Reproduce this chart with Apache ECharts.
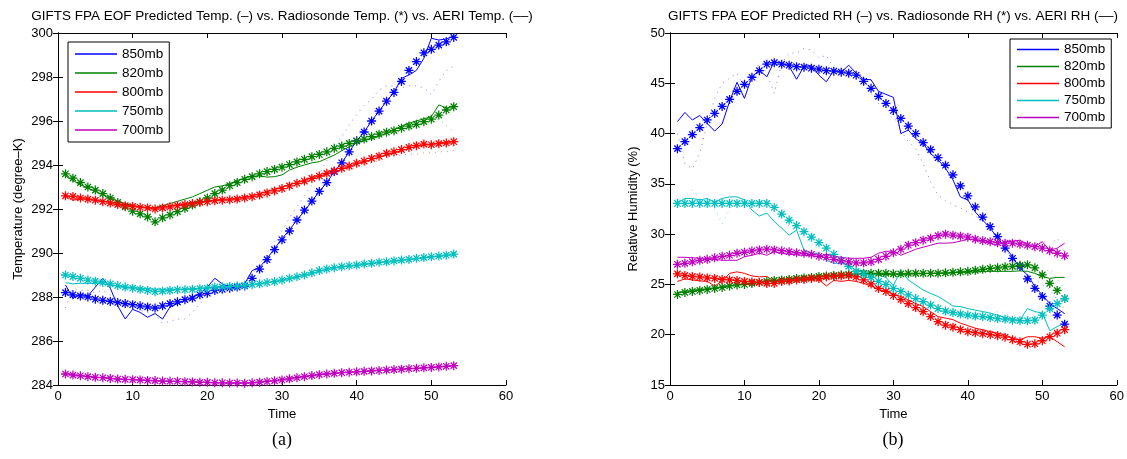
<!DOCTYPE html>
<html>
<head>
<meta charset="utf-8">
<script src="https://cdn.jsdelivr.net/npm/echarts@6/dist/echarts.min.js"></script>
<style>
  html, body { margin: 0; padding: 0; background: #fff; }
  #chart { width: 1127px; height: 459px; }
</style>
</head>
<body>
<div id="chart"></div>
<script>
// time steps 1..53
const times = [1,2,3,4,5,6,7,8,9,10,11,12,13,14,15,16,17,18,19,20,21,22,23,24,25,26,27,28,29,30,31,32,33,34,35,36,37,38,39,40,41,42,43,44,45,46,47,48,49,50,51,52,53]
const levels = ['850mb', '820mb', '800mb', '750mb', '700mb']

// (a) temperature, degree K
const temp850Pred = [288.55,287.94,288.12,288.05,288.45,288.85,288.4,287.6,287.0,287.44,287.3,287.08,287.25,287.0,287.55,287.7,287.85,287.97,288.15,288.45,288.85,288.6,288.45,288.4,288.6,289.2,289.35,289.75,290.2,290.65,291.05,291.5,291.9,292.35,292.8,293.2,293.7,294.1,294.6,295.1,295.5,296.0,296.45,296.9,297.3,297.94,298.09,298.3,298.85,299.76,299.68,299.73,299.86]
const temp850Sonde = [288.2,288.1,288.05,288.0,287.9,287.85,287.8,287.75,287.7,287.65,287.6,287.55,287.5,287.6,287.7,287.78,287.88,287.95,288.1,288.17,288.3,288.35,288.4,288.45,288.5,288.85,289.27,289.7,290.15,290.6,291.0,291.5,291.95,292.36,292.8,293.2,293.7,294.1,294.6,295.1,295.5,296.0,296.45,296.9,297.3,297.8,298.3,298.7,299.1,299.26,299.45,299.6,299.8]
const temp850Aeri = [287.5,288.4,288.3,288.3,288.2,288.3,288.1,287.9,287.7,287.6,287.4,287.3,287.2,286.8,286.9,287.0,287.0,287.3,287.7,288.0,288.3,288.4,288.3,288.4,288.6,289.0,289.5,290.0,290.5,291.0,291.6,292.1,292.6,293.1,293.6,294.2,294.8,295.3,295.8,296.3,296.7,297.0,297.4,297.6,297.6,297.5,297.6,297.6,297.5,297.2,297.8,298.3,298.5]

const temp820Pred = [293.5,293.3,293.1,292.95,292.8,292.65,292.5,292.35,292.25,292.15,292.1,292.05,292.05,292.15,292.25,292.35,292.45,292.55,292.7,292.85,293.0,293.05,293.15,293.3,293.4,293.5,293.5,293.45,293.47,293.55,293.77,293.9,294.0,294.1,294.15,294.3,294.45,294.65,294.83,295.0,295.1,295.2,295.3,295.45,295.6,295.77,295.9,296.0,296.1,296.2,296.73,296.6,296.6]
const temp820Sonde = [293.6,293.4,293.2,293.0,292.86,292.7,292.5,292.3,292.1,291.9,291.78,291.64,291.42,291.6,291.73,291.88,292.03,292.18,292.33,292.5,292.7,292.86,293.06,293.2,293.35,293.47,293.6,293.7,293.8,293.9,294.02,294.14,294.26,294.38,294.48,294.6,294.76,294.86,294.98,295.09,295.18,295.29,295.4,295.49,295.56,295.67,295.77,295.85,295.97,296.08,296.27,296.5,296.65]
const temp820Aeri = [293.7,293.5,293.3,293.1,292.9,292.7,292.5,292.3,292.1,291.95,291.8,291.65,291.5,291.6,291.75,291.9,292.05,292.2,292.35,292.5,292.65,292.8,293.0,293.15,293.3,293.45,293.55,293.65,293.75,293.85,293.95,294.1,294.2,294.35,294.45,294.55,294.7,294.8,294.9,295.0,295.1,295.2,295.3,295.4,295.5,295.6,295.7,295.8,295.9,296.0,296.1,295.8,295.5]

const temp800Pred = [292.65,292.4,292.45,292.45,292.4,292.35,292.3,292.25,292.2,292.15,292.1,292.05,292.05,292.1,292.15,292.2,292.25,292.3,292.3,292.35,292.4,292.45,292.45,292.5,292.55,292.6,292.7,292.8,292.9,293.0,293.1,293.2,293.3,293.4,293.5,293.6,293.7,293.8,293.95,294.05,294.15,294.25,294.35,294.45,294.55,294.65,294.75,294.85,294.9,294.95,295.0,295.05,295.05]
const temp800Sonde = [292.6,292.57,292.5,292.45,292.4,292.33,292.27,292.2,292.15,292.12,292.08,292.05,292.0,292.05,292.1,292.15,292.2,292.25,292.3,292.33,292.38,292.4,292.42,292.45,292.5,292.56,292.64,292.73,292.82,292.93,293.05,293.17,293.27,293.39,293.5,293.62,293.73,293.85,293.95,294.08,294.18,294.3,294.4,294.53,294.6,294.7,294.8,294.88,294.95,294.92,294.97,295.0,295.06]
const temp800Aeri = [292.7,292.6,292.55,292.5,292.45,292.4,292.3,292.25,292.2,292.15,292.1,292.05,292.0,292.0,292.05,292.1,292.15,292.2,292.25,292.3,292.35,292.35,292.4,292.4,292.45,292.5,292.6,292.7,292.8,292.9,293.0,293.1,293.2,293.3,293.4,293.5,293.6,293.7,293.8,293.9,294.0,294.1,294.2,294.3,294.4,294.45,294.5,294.5,294.55,294.55,294.6,294.6,294.65]

const temp750Pred = [288.65,288.6,288.62,288.62,288.62,288.6,288.55,288.5,288.45,288.42,288.4,288.38,288.36,288.35,288.35,288.36,288.37,288.38,288.4,288.42,288.45,288.47,288.49,288.51,288.54,288.57,288.6,288.65,288.7,288.77,288.84,288.91,288.99,289.08,289.17,289.25,289.31,289.36,289.4,289.44,289.48,289.52,289.56,289.59,289.62,289.66,289.7,289.74,289.78,289.82,289.85,289.89,289.93]
const temp750Sonde = [289.0,288.93,288.85,288.77,288.72,288.66,288.6,288.52,288.45,288.4,288.35,288.3,288.24,288.27,288.3,288.33,288.33,288.35,288.38,288.4,288.45,288.46,288.48,288.5,288.53,288.56,288.6,288.66,288.7,288.77,288.85,288.92,289.0,289.1,289.2,289.27,289.33,289.38,289.42,289.45,289.5,289.53,289.58,289.6,289.64,289.68,289.71,289.76,289.79,289.83,289.86,289.9,289.95]
const temp750Aeri = [289.1,289.0,288.9,288.8,288.75,288.7,288.6,288.55,288.5,288.45,288.4,288.35,288.3,288.3,288.3,288.35,288.35,288.4,288.4,288.45,288.5,288.5,288.5,288.55,288.55,288.6,288.65,288.7,288.75,288.8,288.85,288.95,289.0,289.1,289.2,289.25,289.3,289.35,289.4,289.45,289.5,289.5,289.55,289.6,289.6,289.65,289.7,289.7,289.75,289.8,289.8,289.85,289.85]

const temp700Pred = [284.52,284.47,284.43,284.39,284.36,284.33,284.3,284.28,284.26,284.24,284.22,284.2,284.19,284.18,284.17,284.16,284.15,284.14,284.13,284.12,284.11,284.1,284.1,284.09,284.09,284.1,284.13,284.16,284.2,284.24,284.29,284.34,284.39,284.44,284.48,284.51,284.54,284.56,284.58,284.6,284.62,284.64,284.66,284.68,284.7,284.72,284.74,284.76,284.78,284.8,284.82,284.85,284.88]
const temp700Sonde = [284.5,284.45,284.42,284.38,284.35,284.33,284.3,284.27,284.26,284.24,284.23,284.21,284.2,284.18,284.17,284.17,284.15,284.14,284.12,284.12,284.1,284.1,284.09,284.09,284.08,284.1,284.13,284.16,284.19,284.23,284.28,284.33,284.38,284.43,284.47,284.5,284.53,284.56,284.58,284.6,284.62,284.64,284.66,284.68,284.7,284.72,284.74,284.76,284.78,284.8,284.82,284.85,284.88]
const temp700Aeri = [284.55,284.5,284.45,284.4,284.37,284.34,284.31,284.29,284.27,284.25,284.23,284.22,284.2,284.19,284.18,284.17,284.16,284.15,284.14,284.13,284.12,284.11,284.1,284.1,284.1,284.12,284.14,284.17,284.2,284.25,284.3,284.35,284.4,284.45,284.49,284.52,284.55,284.57,284.59,284.61,284.63,284.65,284.67,284.69,284.71,284.73,284.75,284.77,284.79,284.81,284.83,284.86,284.9]

// (b) relative humidity, %
const rh850Pred = [41.2,42.1,41.35,41.8,41.0,40.25,40.95,43.2,45.1,43.5,45.65,46.3,45.65,47.15,47.0,46.7,45.4,46.7,46.75,45.8,45.15,46.3,46.1,46.8,46.0,45.4,45.35,44.2,43.9,43.6,40.0,40.35,39.5,39.0,38.0,37.4,36.55,35.4,33.7,33.4,32.2,31.4,30.6,29.6,28.75,27.75,26.6,25.95,24.8,23.95,23.1,22.6,22.1]
const rh850Sonde = [38.5,39.2,39.9,40.6,41.35,42.0,42.7,43.4,44.2,44.9,45.6,46.25,46.9,47.05,46.9,46.8,46.65,46.6,46.5,46.4,46.25,46.2,46.1,46.0,45.8,45.2,44.5,43.7,43.0,42.3,41.5,40.75,40.0,39.1,38.4,37.6,36.85,35.9,34.8,33.8,32.7,31.7,30.75,29.75,28.6,27.6,26.8,25.55,24.6,23.8,22.85,21.95,21.05]
const rh850Aeri = [40.0,37.0,36.5,38.0,41.0,43.5,45.0,45.5,46.0,44.5,45.5,47.0,46.0,44.0,47.0,48.0,48.0,48.5,48.3,47.5,47.8,46.5,46.2,46.0,45.8,45.0,44.0,43.0,42.5,41.8,40.3,39.2,38.5,37.0,35.2,33.9,33.3,32.9,32.6,32.2,31.8,31.3,30.5,29.5,28.5,27.5,26.5,26.0,25.5,25.0,24.5,23.5,22.5]

const rh820Pred = [24.2,24.3,24.4,24.5,24.55,24.65,24.75,24.85,24.95,25.0,25.1,25.2,25.3,25.4,25.45,25.5,25.55,25.6,25.65,25.75,25.8,25.85,25.9,25.95,26.0,26.05,26.0,26.0,26.0,25.95,26.0,26.0,26.05,26.05,26.1,26.1,26.1,26.15,26.2,26.2,26.25,26.3,26.3,26.3,26.3,26.3,26.35,26.3,26.1,25.8,25.6,25.7,25.7]
const rh820Sonde = [24.0,24.2,24.3,24.4,24.5,24.6,24.7,24.85,24.95,25.0,25.1,25.2,25.3,25.4,25.45,25.5,25.6,25.65,25.7,25.8,25.85,25.9,25.95,26.0,26.05,26.1,26.1,26.1,26.1,26.05,26.05,26.1,26.1,26.1,26.1,26.1,26.15,26.2,26.25,26.3,26.4,26.5,26.6,26.65,26.75,26.8,26.9,26.95,26.65,25.95,25.1,24.4,23.6]
const rh820Aeri = [24.1,24.2,24.35,24.45,24.55,24.65,24.75,24.85,24.9,25.0,25.1,25.2,25.3,25.35,25.45,25.5,25.55,25.6,25.7,25.75,25.8,25.9,25.95,26.0,26.0,26.05,26.1,26.1,26.05,26.05,26.1,26.1,26.1,26.15,26.15,26.2,26.2,26.25,26.3,26.35,26.4,26.5,26.55,26.6,26.7,26.75,26.85,26.9,26.5,25.8,26.6,25.5,24.6]

const rh800Pred = [25.3,25.55,25.45,25.35,25.3,24.85,25.3,26.1,26.25,26.1,25.85,25.75,25.8,25.3,25.3,25.35,25.4,25.45,25.45,25.45,24.85,25.4,25.3,25.4,25.3,25.1,24.85,24.5,24.3,24.05,23.8,23.45,23.1,22.8,22.3,21.8,21.65,21.5,21.15,20.9,20.65,20.5,20.3,20.15,20.0,19.65,19.5,19.8,19.8,19.65,19.8,19.3,18.8]
const rh800Sonde = [26.05,25.9,25.8,25.75,25.65,25.6,25.5,25.45,25.4,25.3,25.25,25.2,25.1,25.1,25.3,25.35,25.45,25.5,25.6,25.6,25.75,25.8,25.85,25.9,25.75,25.45,25.05,24.6,24.3,23.9,23.5,23.1,22.7,22.3,21.8,21.3,20.95,20.75,20.5,20.3,20.2,20.1,20.0,19.9,19.75,19.5,19.3,19.05,19.1,19.4,19.8,20.15,20.5]
const rh800Aeri = [26.2,26.0,25.9,25.8,25.7,25.6,25.55,25.5,25.4,25.35,25.3,25.2,25.15,25.2,25.3,25.4,25.5,25.55,25.6,25.7,25.75,25.8,25.9,25.9,25.8,25.5,25.1,24.7,24.3,23.9,23.5,23.1,22.7,22.3,21.9,21.4,21.0,20.8,20.6,20.4,20.3,20.2,20.1,20.0,19.8,19.6,19.4,19.2,19.2,19.5,19.9,20.3,20.6]

const rh750Pred = [33.1,33.55,33.55,33.4,33.55,33.2,33.55,33.7,33.7,33.4,32.4,31.8,32.1,31.25,30.6,29.9,30.4,28.4,28.1,28.1,27.4,27.1,27.1,26.9,26.4,26.4,26.1,25.95,25.7,24.9,26.4,25.45,24.95,24.45,24.1,23.8,23.35,22.85,22.8,22.6,22.45,22.3,22.15,21.95,21.7,21.5,21.45,22.6,22.3,22.15,20.4,20.8,21.15]
const rh750Sonde = [33.05,33.05,33.05,33.05,33.05,33.05,33.05,33.05,33.05,33.05,33.05,33.05,33.05,32.65,32.0,31.4,30.85,30.25,29.7,29.15,28.6,28.0,27.4,26.8,26.3,26.0,25.7,25.3,25.0,24.6,24.3,23.95,23.6,23.3,22.95,22.6,22.35,22.2,22.05,21.95,21.85,21.8,21.7,21.6,21.55,21.45,21.4,21.4,21.45,21.95,22.6,23.1,23.6]
const rh750Aeri = [33.2,33.8,34.4,33.5,33.0,32.5,31.0,32.5,33.3,33.5,33.0,33.2,33.0,32.5,31.5,30.8,30.2,29.6,29.0,28.5,28.0,27.6,27.2,26.8,26.3,25.8,25.4,25.0,24.6,24.3,24.0,23.7,23.4,23.1,22.8,22.5,22.3,22.2,22.0,21.9,21.8,21.7,21.8,22.4,22.1,21.6,21.3,21.2,21.3,21.6,22.2,22.8,23.3]

const rh700Pred = [27.7,27.7,27.65,27.6,27.6,27.5,27.4,27.4,27.4,27.75,27.9,28.1,27.9,28.25,28.1,28.0,27.95,27.9,27.85,27.8,28.0,27.8,27.7,27.6,27.6,27.6,27.7,28.1,28.3,28.3,27.9,28.2,28.5,28.7,28.9,29.1,29.1,29.15,29.3,29.5,29.4,29.25,29.1,28.9,29.25,29.3,29.4,28.9,28.75,29.25,28.4,28.6,29.1]
const rh700Sonde = [27.0,27.1,27.25,27.4,27.5,27.65,27.8,27.9,28.1,28.2,28.33,28.43,28.5,28.43,28.35,28.26,28.15,28.1,28.0,27.8,27.7,27.5,27.35,27.25,27.15,27.15,27.25,27.5,27.8,28.15,28.5,28.9,29.15,29.4,29.6,29.85,30.0,29.9,29.8,29.7,29.5,29.35,29.25,29.15,29.1,29.1,29.0,28.9,28.75,28.6,28.36,28.1,27.85]
const rh700Aeri = [27.1,27.2,27.3,27.45,27.55,27.7,27.8,27.95,28.1,28.2,28.3,28.4,28.5,28.45,28.4,28.3,28.2,28.1,28.0,27.85,27.7,27.55,27.4,27.3,27.2,27.2,27.3,27.55,27.85,28.2,28.55,28.9,29.2,29.45,29.65,29.9,30.05,29.95,29.85,29.7,29.55,29.4,29.3,29.2,29.1,29.1,29.0,28.9,28.8,29.4,28.9,29.6,28.2]

const colors = ['#0000ff', '#008000', '#ff0000', '#00bfbf', '#bf00bf']

const tempPred = [temp850Pred, temp820Pred, temp800Pred, temp750Pred, temp700Pred]
const tempSonde = [temp850Sonde, temp820Sonde, temp800Sonde, temp750Sonde, temp700Sonde]
const tempAeri = [temp850Aeri, temp820Aeri, temp800Aeri, temp750Aeri, temp700Aeri]
const rhPred = [rh850Pred, rh820Pred, rh800Pred, rh750Pred, rh700Pred]
const rhSonde = [rh850Sonde, rh820Sonde, rh800Sonde, rh750Sonde, rh700Sonde]
const rhAeri = [rh850Aeri, rh820Aeri, rh800Aeri, rh750Aeri, rh700Aeri]

// matlab style '*' marker
const asterisk = 'path://M43 0H57V100H43Z M0 43H100V57H0Z M10 20L20 10L90 80L80 90Z M80 10L90 20L20 90L10 80Z'

const font = 'Liberation Sans, Arial, Helvetica, sans-serif'

const pairs = (values) => values.map((v, i) => [times[i], v])

const buildSeries = (gridIndex, pred, sonde, aeri) => {
  const list = []
  levels.forEach((name, k) => {
    list.push({
      name: name,
      type: 'line',
      xAxisIndex: gridIndex * 2,
      yAxisIndex: gridIndex * 2,
      symbol: 'none',
      lineStyle: { color: colors[k], width: 1 },
      itemStyle: { color: colors[k] },
      data: pairs(pred[k]),
      z: 3
    })
    list.push({
      name: name + ' radiosonde',
      type: 'line',
      xAxisIndex: gridIndex * 2,
      yAxisIndex: gridIndex * 2,
      symbol: asterisk,
      symbolSize: 9,
      showSymbol: true,
      lineStyle: { opacity: 0 },
      itemStyle: { color: colors[k] },
      data: pairs(sonde[k]),
      z: 4
    })
    list.push({
      name: name + ' AERI',
      type: 'line',
      xAxisIndex: gridIndex * 2,
      yAxisIndex: gridIndex * 2,
      symbol: 'none',
      lineStyle: { color: colors[k], width: 1, type: [1, 5], opacity: 0.5 },
      itemStyle: { color: colors[k] },
      data: pairs(aeri[k]),
      z: 2
    })
  })
  return list
}

const axisLabel = { color: '#000', fontSize: 13, fontFamily: font }
const axisLine = { lineStyle: { color: '#000', width: 1 } }
const nameStyle = { color: '#000', fontSize: 13, fontFamily: font }

const xAxes = (gridIndex) => ([
  {
    gridIndex: gridIndex, type: 'value', position: 'bottom', min: 0, max: 60, interval: 10,
    axisLine: axisLine, axisTick: { inside: true, length: 5, lineStyle: { color: '#000' } },
    axisLabel: Object.assign({ margin: 5 }, axisLabel), splitLine: { show: false },
    name: 'Time', nameLocation: 'middle', nameGap: 21, nameTextStyle: nameStyle
  },
  {
    gridIndex: gridIndex, type: 'value', position: 'top', min: 0, max: 60, interval: 10,
    axisLine: axisLine, axisTick: { inside: true, length: 5, lineStyle: { color: '#000' } },
    axisLabel: { show: false }, splitLine: { show: false }
  }
])

const yAxes = (gridIndex, min, max, interval, name, nameGap) => ([
  {
    gridIndex: gridIndex, type: 'value', position: 'left', min: min, max: max, interval: interval,
    axisLine: axisLine, axisTick: { inside: true, length: 5, lineStyle: { color: '#000' } },
    axisLabel: Object.assign({ margin: 5 }, axisLabel), splitLine: { show: false },
    name: name, nameLocation: 'middle', nameGap: nameGap, nameRotate: 90, nameTextStyle: nameStyle
  },
  {
    gridIndex: gridIndex, type: 'value', position: 'right', min: min, max: max, interval: interval,
    axisLine: axisLine, axisTick: { inside: true, length: 5, lineStyle: { color: '#000' } },
    axisLabel: { show: false }, splitLine: { show: false }
  }
])

const legendBase = {
  orient: 'vertical',
  data: levels,
  icon: 'rect',
  itemWidth: 42,
  itemHeight: 1.5,
  backgroundColor: '#fff',
  borderColor: '#000',
  borderWidth: 1,
  borderRadius: 0,
  selectedMode: false,
  textStyle: { color: '#000', fontSize: 13.5, fontFamily: font, lineHeight: 13 }
}

const chart = echarts.init(document.getElementById('chart'))

chart.setOption({
  animation: false,
  backgroundColor: '#fff',
  grid: [
    { left: 58, top: 33, width: 448, height: 352 },
    { left: 670, top: 33, width: 447, height: 352 }
  ],
  xAxis: [...xAxes(0), ...xAxes(1)],
  yAxis: [
    ...yAxes(0, 284, 300, 2, 'Temperature (degree\u2013K)', 33),
    ...yAxes(1, 15, 50, 5, 'Relative Humidity (%)', 30)
  ],
  legend: [
    Object.assign({ left: 68, top: 42, itemGap: 5, padding: [5, 6, 5, 7] }, legendBase),
    Object.assign({ left: 1010, top: 39, itemGap: 3, padding: [3.5, 6, 3.5, 7] }, legendBase)
  ],
  graphic: [
    {
      type: 'text', x: 282, y: 16,
      style: {
        text: 'GIFTS FPA EOF Predicted Temp. (\u2013) vs. Radiosonde Temp. (*) vs. AERI Temp. (\u2013\u2013)',
        fill: '#000', font: '13.5px ' + font, textAlign: 'center', textVerticalAlign: 'middle'
      }
    },
    {
      type: 'text', x: 893, y: 16,
      style: {
        text: 'GIFTS FPA EOF Predicted RH (\u2013) vs. Radiosonde RH (*) vs. AERI RH (\u2013\u2013)',
        fill: '#000', font: '13.5px ' + font, textAlign: 'center', textVerticalAlign: 'middle'
      }
    },
    {
      type: 'text', x: 282, y: 440,
      style: { text: '(a)', fill: '#000', font: '18px Liberation Serif, DejaVu Serif, serif', textAlign: 'center', textVerticalAlign: 'middle' }
    },
    {
      type: 'text', x: 893, y: 440,
      style: { text: '(b)', fill: '#000', font: '18px Liberation Serif, DejaVu Serif, serif', textAlign: 'center', textVerticalAlign: 'middle' }
    }
  ],
  series: [
    ...buildSeries(0, tempPred, tempSonde, tempAeri),
    ...buildSeries(1, rhPred, rhSonde, rhAeri)
  ]
})
</script>
</body>
</html>
